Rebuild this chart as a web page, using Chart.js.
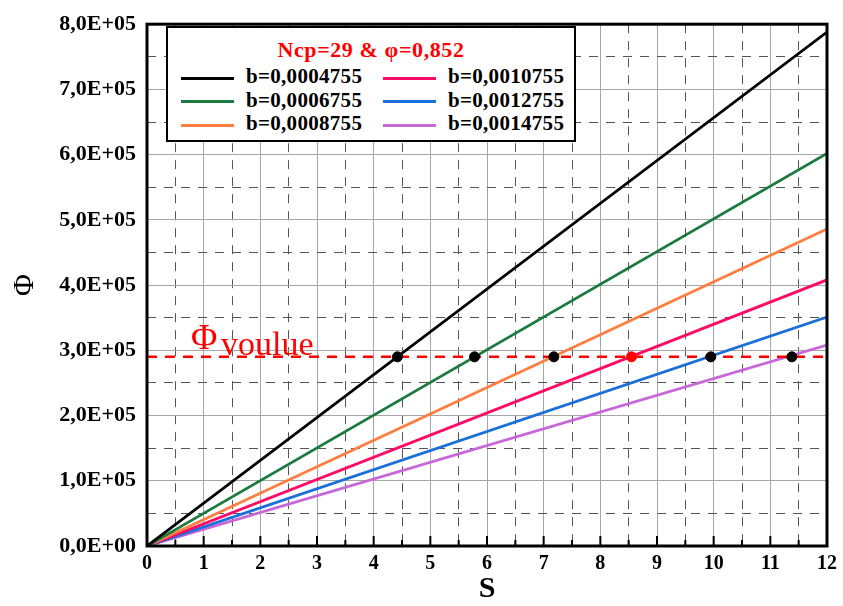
<!DOCTYPE html>
<html>
<head>
<meta charset="utf-8">
<script src="https://cdn.jsdelivr.net/npm/chart.js@4.4.0/dist/chart.umd.min.js"></script>
<style>
  body { margin: 0; background: #fff; }
  #wrap { position: relative; width: 843px; height: 606px; }
  #legend {
    position: absolute; left: 166px; top: 26px; width: 406px; height: 112px;
    border: 2.5px solid #000; background: #fff;
    font-family: "Liberation Serif", "Times New Roman", serif; font-weight: bold;
  }
  #legend .ttl { position: absolute; left: 0; right: 0; top: 9px; text-align: center; color: #ff0000; font-size: 22px; letter-spacing: 0.6px; }
  #legend .item { position: absolute; font-size: 21px; line-height: 20px; white-space: nowrap; letter-spacing: 0.3px; }
  #legend .swatch { display: inline-block; width: 53px; height: 3px; vertical-align: middle; margin-right: 12px; }
</style>
</head>
<body>
<div id="wrap">
  <canvas id="chart" width="843" height="606"></canvas>
  <div id="legend"><div class="ttl">Ncp=29 &amp; φ=0,852</div></div>
</div>
<script>
// ---------- Data ----------
const sRange = [0, 12];
const bLabels = ['b=0,0004755', 'b=0,0006755', 'b=0,0008755', 'b=0,0010755', 'b=0,0012755', 'b=0,0014755'];
const lineColors = ['#000000', '#1b7a40', '#ff7d3f', '#ff0a64', '#1b6fd8', '#c868d8'];
const phiStart = [0, 0, 0, 0, 0, 0];
const phiEnd = [7.88e5, 6.02e5, 4.86e5, 4.08e5, 3.51e5, 3.08e5];
const phiVoulue = 2.9e5;
const sCross = [4.42, 5.78, 7.18, 8.55, 9.95, 11.38];
const crossColors = ['#000', '#000', '#000', '#ff0000', '#000', '#000'];

const serif = '"Liberation Serif", "Times New Roman", serif';
const isWhole = v => Math.abs(v - Math.round(v)) < 1e-9;

// ---------- Legend (html) ----------
const legend = document.getElementById('legend');
bLabels.forEach((lab, i) => {
  const col = Math.floor(i / 3), row = i % 3;
  const el = document.createElement('div');
  el.className = 'item';
  el.style.left = (13 + col * 202) + 'px';
  el.style.top = (38 + row * 23.5) + 'px';
  el.innerHTML = `<span class="swatch" style="background:${lineColors[i]}"></span>${lab}`;
  legend.appendChild(el);
});

// ---------- Datasets ----------
const datasets = bLabels.map((lab, i) => ({
  label: lab,
  data: [{ x: sRange[0], y: phiStart[i] }, { x: sRange[1], y: phiEnd[i] }],
  borderColor: lineColors[i],
  borderWidth: 2.8,
  pointRadius: 0,
  order: 3
}));
datasets.push({
  label: 'Φvoulue',
  data: [{ x: sRange[0], y: phiVoulue }, { x: sRange[1], y: phiVoulue }],
  borderColor: '#ff0000',
  borderWidth: 2.5,
  borderDash: [10, 8],
  pointRadius: 0,
  order: 2
});
datasets.push({
  label: 'cross',
  data: sCross.map(s => ({ x: s, y: phiVoulue })),
  showLine: false,
  pointRadius: 5,
  pointBackgroundColor: crossColors,
  pointBorderColor: crossColors,
  order: 1
});

// ---------- Decorations ----------
const decor = {
  id: 'decor',
  afterDatasetsDraw(chart) {
    const { ctx, chartArea: a, scales: { x, y } } = chart;
    ctx.save();
    ctx.strokeStyle = '#000';
    ctx.lineWidth = 2;
    x.ticks.forEach(t => {
      const px = x.getPixelForValue(t.value);
      const len = isWhole(t.value) ? 10 : 6;
      ctx.beginPath(); ctx.moveTo(px, a.bottom); ctx.lineTo(px, a.bottom - len); ctx.stroke();
    });
    ctx.lineWidth = 3;
    ctx.strokeRect(a.left, a.top, a.right - a.left, a.bottom - a.top);
    // Φvoulue label
    const py = y.getPixelForValue(phiVoulue);
    ctx.fillStyle = '#ff0000';
    ctx.font = '36px ' + serif;
    ctx.textBaseline = 'alphabetic';
    ctx.fillText('Φ', 191, py - 8);
    ctx.font = '34px ' + serif;
    ctx.fillText('voulue', 221, py - 2);
    ctx.restore();
  }
};

new Chart(document.getElementById('chart'), {
  type: 'line',
  data: { datasets },
  options: {
    responsive: false,
    animation: false,
    layout: { padding: { top: 17, right: 15, left: 0, bottom: 0 } },
    plugins: { legend: { display: false }, tooltip: { enabled: false } },
    scales: {
      x: {
        type: 'linear', min: 0, max: 12,
        afterFit: s => { s.height = 60; },
        ticks: {
          stepSize: 0.5, autoSkip: false, maxRotation: 0, padding: 6, color: '#000',
          font: { family: serif, size: 20, weight: 'bold' },
          callback: v => isWhole(v) ? String(v) : ''
        },
        grid: {
          drawTicks: false,
          color: c => isWhole(c.tick.value) ? '#a6a6a6' : '#555555',
          lineWidth: 1
        },
        border: { display: false, dash: c => (c.tick && !isWhole(c.tick.value)) ? [9, 8] : [] },
        title: {
          display: true, text: 'S', color: '#000', padding: { top: 0, bottom: 0 },
          font: { family: serif, size: 30, weight: 'bold', lineHeight: 1.1 }
        }
      },
      y: {
        type: 'linear', min: 0, max: 8e5,
        afterFit: s => { s.width = 147; },
        ticks: {
          stepSize: 0.5e5, autoSkip: false, padding: 11, color: '#000',
          font: { family: serif, size: 22, weight: 'bold' },
          callback: v => isWhole(v / 1e5) ? (v / 1e5).toFixed(1).replace('.', ',') + (v === 0 ? 'E+00' : 'E+05') : ''
        },
        grid: {
          drawTicks: false,
          color: c => isWhole(c.tick.value / 1e5) ? '#a6a6a6' : '#555555',
          lineWidth: 1
        },
        border: { display: false, dash: c => (c.tick && !isWhole(c.tick.value / 1e5)) ? [9, 8] : [] },
        title: {
          display: true, text: 'Φ', color: '#000', padding: { top: 7, bottom: 0 },
          font: { family: serif, size: 30, lineHeight: 1.2 }
        }
      }
    }
  },
  plugins: [decor]
});
</script>
</body>
</html>
